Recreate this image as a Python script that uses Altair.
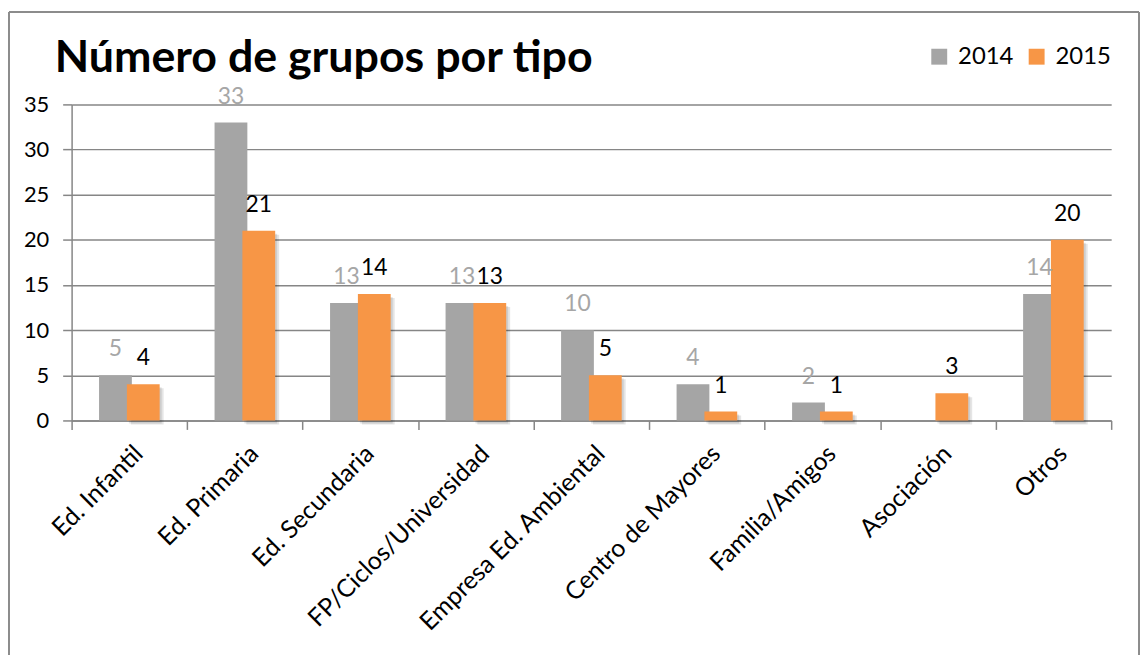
import altair as alt
import pandas as pd

categories = ["Ed. Infantil", "Ed. Primaria", "Ed. Secundaria", "FP/Ciclos/Universidad",
              "Empresa Ed. Ambiental", "Centro de Mayores", "Familia/Amigos", "Asociación", "Otros"]
v2014 = [5, 33, 13, 13, 10, 4, 2, 0, 14]
v2015 = [4, 21, 14, 13, 5, 1, 1, 3, 20]
years = ["2014", "2015"]
colors = ["#A5A5A5", "#F79646"]
y_ticks = [0, 5, 10, 15, 20, 25, 30, 35]
title_text = "Número de grupos por tipo"

rows = []
for c, a, b in zip(categories, v2014, v2015):
    rows.append({"cat": c, "year": "2014", "val": a})
    rows.append({"cat": c, "year": "2015", "val": b})
df = pd.DataFrame(rows)
df = df[df["val"] > 0]

FONT = "Lato"
GRID = "#868686"

x_enc = alt.X("cat:N", sort=categories, title=None,
              scale=alt.Scale(paddingInner=0, paddingOuter=0),
              axis=alt.Axis(labelAngle=-45, labelAlign="right", labelBaseline="middle",
                            labelFontSize=25, labelFont=FONT, labelColor="black",
                            labelPadding=20, labelOffset=9, tickBand="extent", tickSize=9,
                            tickColor=GRID, tickWidth=1.5, domainColor=GRID, domainWidth=1.5,
                            grid=False, labelLimit=400))
y_enc = alt.Y("val:Q", title=None, scale=alt.Scale(domain=[0, 35], nice=False),
              axis=alt.Axis(values=y_ticks, labelFontSize=22, labelFont=FONT, labelColor="black",
                            labelPadding=14, tickSize=9, tickColor=GRID, tickWidth=1.5,
                            domainColor=GRID, domainWidth=1.5, gridColor=GRID, gridWidth=1.5))

base = alt.Chart(df)
d14 = base.transform_filter(alt.datum.year == "2014")
d15 = base.transform_filter(alt.datum.year == "2015")

color_enc = alt.Color("year:N", scale=alt.Scale(domain=years, range=colors),
                      legend=alt.Legend(orient="none", legendX=861, legendY=-60,
                                        direction="horizontal", title=None,
                                        symbolType="square", symbolSize=256,
                                        symbolStrokeWidth=0, labelFontSize=24, labelFont=FONT,
                                        labelColor="black", labelOffset=7, columnPadding=11,
                                        padding=0))

bars14 = d14.mark_bar(width=33, xOffset=-14).encode(x=x_enc, y=y_enc, color=color_enc)
shadow1 = d15.mark_bar(width=33, xOffset=18, yOffset=4, y2Offset=3, color="black",
                       opacity=0.10).encode(x=x_enc, y=y_enc)
shadow2 = d15.mark_bar(width=33, xOffset=16, yOffset=3, y2Offset=2, color="black",
                       opacity=0.10).encode(x=x_enc, y=y_enc)
bars15 = d15.mark_bar(width=33, xOffset=14).encode(x=x_enc, y=y_enc, color=color_enc)

lab14 = d14.mark_text(xOffset=-14, dy=-19, baseline="alphabetic", fontSize=23, font=FONT,
                      color="#A6A6A6").encode(x=x_enc, y=y_enc, text="val:Q")
lab15 = d15.mark_text(xOffset=14, dy=-19, baseline="alphabetic", fontSize=23, font=FONT,
                      color="black").encode(x=x_enc, y=y_enc, text="val:Q")

title_df = pd.DataFrame({"t": [title_text]})
title = alt.Chart(title_df).mark_text(align="left", baseline="alphabetic", fontSize=45,
                                      font=FONT, fontWeight="bold", color="black").encode(
    text="t:N", x=alt.value(-17), y=alt.value(-33))

border_df = pd.DataFrame({"b": [0]})
border_l = alt.Chart(border_df).mark_rule(color="#8C8C8C", strokeWidth=2).encode(
    x=alt.value(-63), y=alt.value(-93), y2=alt.value(600))
border_r = alt.Chart(border_df).mark_rule(color="#8C8C8C", strokeWidth=2).encode(
    x=alt.value(1074), y=alt.value(-93), y2=alt.value(600))
border_t = alt.Chart(border_df).mark_rule(color="#8C8C8C", strokeWidth=2).encode(
    x=alt.value(-63), x2=alt.value(1074), y=alt.value(-93))

chart = alt.layer(bars14, shadow1, shadow2, bars15, lab14, lab15, title,
                  border_l, border_r, border_t).properties(
    width=1046, height=318,
    autosize=alt.AutoSizeParams(type="none"),
    padding={"left": 64, "top": 95, "right": 29, "bottom": 234},
    background="white",
).configure_view(strokeWidth=0)

chart.save("out.html", embed_options={"renderer": "svg", "actions": False})
